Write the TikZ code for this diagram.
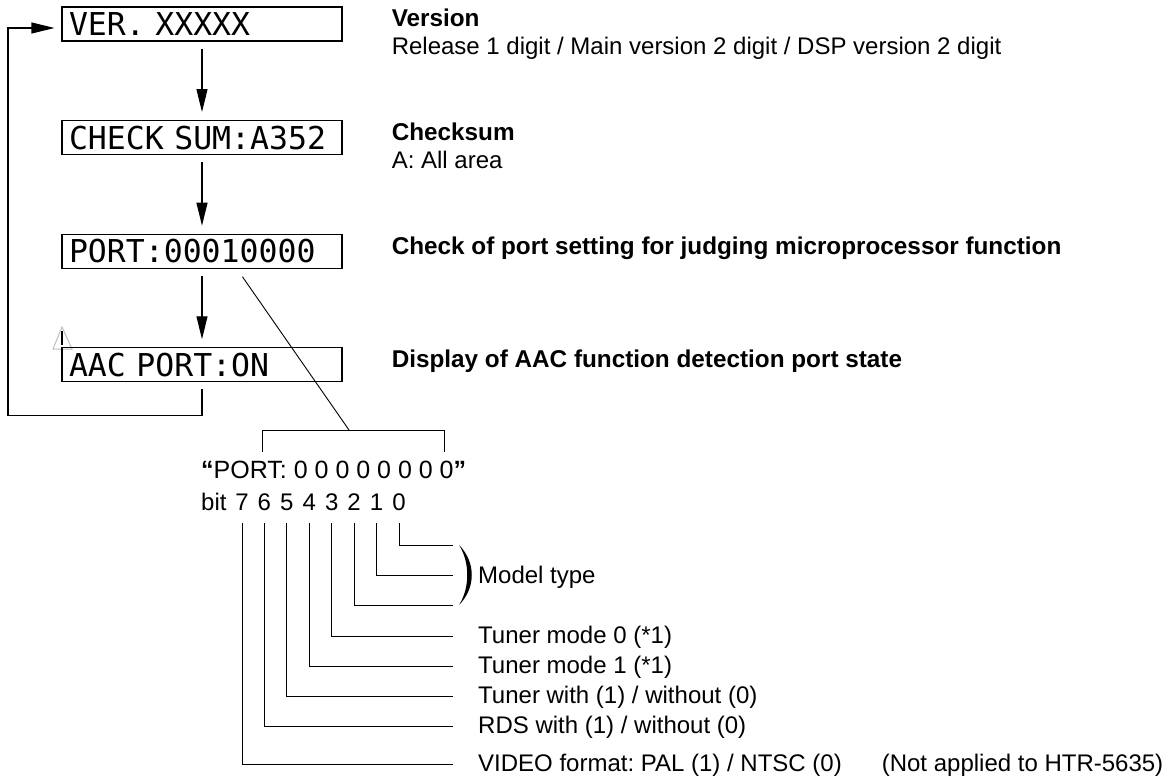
\documentclass[tikz,border=0pt]{standalone}
\usepackage{fontspec}
\setmainfont{Liberation Sans}
\newfontfamily\lcdfont{DejaVu Sans Mono}
\newcommand\lcdtype{\lcdfont\fontsize{31.5}{31.5}\selectfont\spaceskip=0.602em\relax}
\usetikzlibrary{positioning,calc,arrows.meta}
\frenchspacing

\begin{document}
\begin{tikzpicture}[x=1pt,y=-1pt,
  lcd/.style={draw, line width=1.1pt, minimum height=34pt, text width=266pt,
    inner xsep=7pt, inner ysep=0pt, align=left, text height=23pt, text depth=0pt,
    font=\lcdtype},
  flow/.style={line width=1.1pt, -{Triangle[length=23pt,width=11pt]}},
  lead/.style={line width=0.9pt},
  note/.style={anchor=base west, inner sep=0pt, font=\fontsize{24}{28}\selectfont},
  head/.style={note, font=\fontsize{24.3}{28}\selectfont\bfseries},
  node distance=78.5pt]

  \useasboundingbox (0,0) rectangle (1168,778);

  \draw[gray!50, line width=1pt] (53,349) -- (62,327) -- (72,349) -- cycle;
  \draw[line width=2pt] (62,331) -- (62,345);

  \node[lcd] (ver) at (202,24) {VER. XXXXX};
  \node[lcd, below=of ver] (chk) {CHECK SUM:A352};
  \node[lcd, below=of chk] (port) {PORT:00010000};
  \node[lcd, below=of port] (aac) {AAC PORT:ON};

  \foreach \a/\b in {ver/chk, chk/port, port/aac}
    \draw[flow, shorten <=7pt, shorten >=8pt] (\a) -- (\b);
  \draw[flow] ($(aac.south)+(0,7)$) -- ++(0,26) -| (8,28) -- ($(ver.west)+(-7,4)$);

  \node[head] (tver) at ($(ver.east)+(49,3)$) {Version};
  \node[note] (dver) at ($(tver.base west)+(0,28)$) {Release 1 digit / Main version 2 digit / DSP version 2 digit};
  \node[head] (tchk) at ($(chk.east)+(49,3)$) {Checksum};
  \node[note] (dchk) at ($(tchk.base west)+(0,28)$) {A: All area};
  \node[head] (tport) at ($(port.east)+(49,3)$) {Check of port setting for judging microprocessor function};
  \node[head] (taac) at ($(aac.east)+(49,3)$) {Display of AAC function detection port state};

  \coordinate (tap) at ($(port.south west)+(181,8)$);
  \coordinate (brk) at (349,430);
  \draw[lead] (tap) -- (brk);
  \draw[lead] (262,452) |- (444,430) -- (444,452);

  \node[note, font=\fontsize{25}{28}\selectfont] (pstr) at (201,478)
    {\textbf{“}PORT: 0 0 0 0 0 0 0 0\textbf{”}};
  \node[note] (bit) at (201,510) {bit};
  \foreach \i in {0,...,7}
    \node[note, anchor=base] (b\i) at ({399-22.43*\i},510) {\i};

  \foreach \i/\y in {0/545,1/575,2/605,3/636,4/666,5/696,6/726,7/764}
    \draw[lead] ($(b\i.south)+(0,13)$) |- (453,\y);

  \fill (459,545) .. controls (476,562) and (476,588) .. (459,605)
    .. controls (470,588) and (470,562) .. (459,545) -- cycle;
  \node[note] (model) at (478,583) {Model type};

  \foreach \i/\y/\txt in {3/636/{Tuner mode 0 (*1)}, 4/666/{Tuner mode 1 (*1)},
      5/696/{Tuner with (1) / without (0)}, 6/726/{RDS with (1) / without (0)},
      7/764/{VIDEO format: PAL (1) / NTSC (0)\hspace{40pt}(Not applied to HTR-5635)}}
    \node[note] (l\i) at (478,\y+7) {\txt};
\end{tikzpicture}
\end{document}
